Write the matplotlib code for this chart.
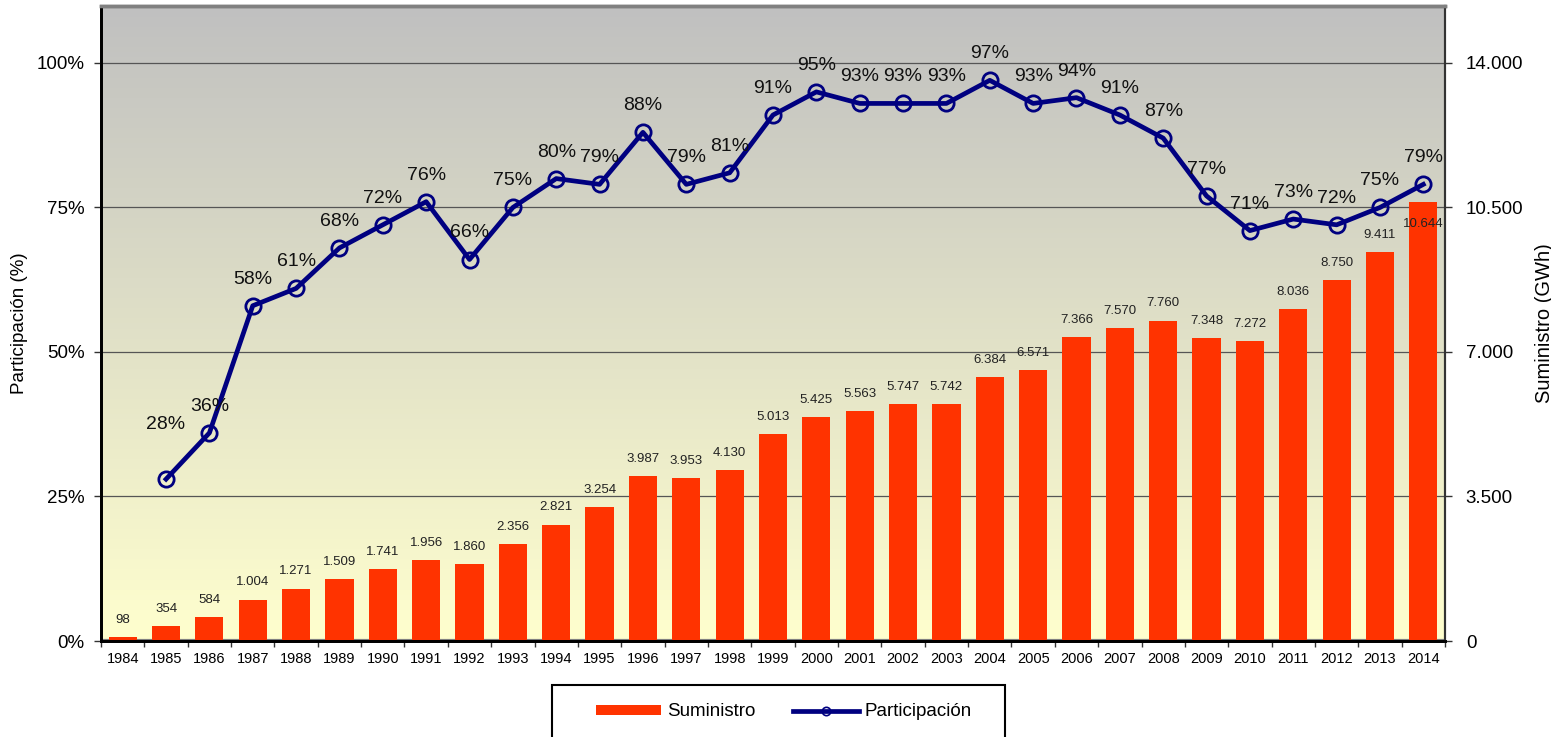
import numpy as np
import matplotlib
matplotlib.use('Agg')
import matplotlib.pyplot as plt
from matplotlib.patches import Rectangle, Patch
from matplotlib.lines import Line2D
from matplotlib.ticker import FixedLocator

plt.rcParams['font.family'] = ['Liberation Sans', 'DejaVu Sans']

years = [str(y) for y in range(1984, 2015)]
suministro = [98, 354, 584, 1004, 1271, 1509, 1741, 1956, 1860, 2356, 2821,
              3254, 3987, 3953, 4130, 5013, 5425, 5563, 5747, 5742, 6384,
              6571, 7366, 7570, 7760, 7348, 7272, 8036, 8750, 9411, 10644]
participacion = [np.nan, 28, 36, 58, 61, 68, 72, 76, 66, 75, 80, 79, 88, 79,
                 81, 91, 95, 93, 93, 93, 97, 93, 94, 91, 87, 77, 71, 73, 72,
                 75, 79]
pct_ticks = [0, 25, 50, 75, 100]
gwh_ticks = [0, 3500, 7000, 10500, 14000]

BAR = '#ff3300'
LINE = '#000080'

fig = plt.figure(figsize=(15.51, 7.37), dpi=100)
ax2 = fig.add_axes([101/1551, 1-641/737, (1445-101)/1551, (641-6)/737])
ax = ax2.twinx()
ax.yaxis.set_label_position('left')
ax.yaxis.tick_left()
ax2.yaxis.set_label_position('right')
ax2.yaxis.tick_right()
ax.set_zorder(ax2.get_zorder() + 1)
ax.patch.set_visible(False)

x = np.arange(len(years))
ax2.set_xlim(-0.5, len(years) - 0.5)
ax2.set_ylim(0, 15380)
ax.set_ylim(0, 15380 / 140)

# gradient background
grad = np.linspace(0, 1, 256).reshape(-1, 1)
top = np.array([192, 192, 192]) / 255
bot = np.array([255, 255, 206]) / 255
img = top[None, None, :] * (1 - grad[:, :, None]) + bot[None, None, :] * grad[:, :, None]
ax2.imshow(img, extent=[0, 1, 0, 1], transform=ax2.transAxes, aspect='auto',
           zorder=0, interpolation='bilinear')

for g in gwh_ticks[1:]:
    ax2.axhline(g, color='#555555', lw=0.9, zorder=1)
ax2.axhline(0, color='#808080', lw=3, zorder=1.5)

ax2.bar(x, suministro, width=0.65, color=BAR, zorder=2)
for i, v in enumerate(suministro):
    lab = f"{v:,}".replace(",", ".")
    off = -16 if i == len(suministro) - 1 else 8
    ax2.annotate(lab, (x[i], v), xytext=(0, off), textcoords='offset points',
                 ha='center', va='bottom' if off > 0 else 'center',
                 fontsize=9.5, color='#222222', zorder=3)

ax.plot(x, participacion, color=LINE, lw=3.4, marker='o', ms=11,
        mfc='none', mec=LINE, mew=2.0, zorder=4)
for i, v in enumerate(participacion):
    if np.isnan(v):
        continue
    off = 33 if i == 1 else 13
    ax.annotate(f"{v:.0f}%", (x[i], v), xytext=(0, off), textcoords='offset points',
                ha='center', va='bottom', fontsize=14, color='#111111', zorder=5)

ax.set_yticks(pct_ticks)
ax.set_yticklabels([f"{t}%" for t in pct_ticks], fontsize=13.5)
ax2.set_yticks(gwh_ticks)
ax2.set_yticklabels([f"{t:,}".replace(",", ".") for t in gwh_ticks], fontsize=13.5)
ax.tick_params(axis='y', direction='out', length=5, width=1, pad=7, color='#333333')
ax2.tick_params(axis='y', direction='out', length=5, width=1, pad=10, color='#333333')

ax2.set_xticks(x)
ax2.set_xticklabels(years, fontsize=10.5)
ax2.tick_params(axis='x', which='major', length=0, pad=8)
ax2.xaxis.set_minor_locator(FixedLocator(np.arange(-0.5, len(years), 1.0)))
ax2.tick_params(axis='x', which='minor', length=4, width=1, direction='out', color='#333333')
ax.tick_params(axis='x', which='both', length=0, labelbottom=False)

ax.set_ylabel('Participación (%)', fontsize=13.5, labelpad=6)
ax2.set_ylabel('Suministro (GWh)', fontsize=14.5, labelpad=8)

for a in (ax, ax2):
    a.spines['top'].set_color('#808080')
    a.spines['top'].set_linewidth(2.5)
    a.spines['left'].set_color('black')
    a.spines['left'].set_linewidth(2)
    a.spines['right'].set_color('#333333')
    a.spines['right'].set_linewidth(1.5)
    a.spines['bottom'].set_color('black')
    a.spines['bottom'].set_linewidth(2)

fig.patches.append(Rectangle((552/1551, -0.02), 453/1551, 0.02 + 1 - 685/737,
                             transform=fig.transFigure, fill=False,
                             edgecolor='black', lw=1.5))
handles = [Patch(facecolor=BAR, edgecolor='none'),
           Line2D([], [], color=LINE, lw=3.4, marker='o', ms=6, mfc='none',
                  mec=LINE, mew=1.2)]
fig.legend(handles, ['Suministro', 'Participación'], loc='center',
           bbox_to_anchor=(784/1551, 1 - 712/737), ncol=2, frameon=False,
           fontsize=13.5, handlelength=3.5, handleheight=0.48,
           handletextpad=0.32, columnspacing=2.0, numpoints=1)

fig.savefig('out.png', dpi=100)
